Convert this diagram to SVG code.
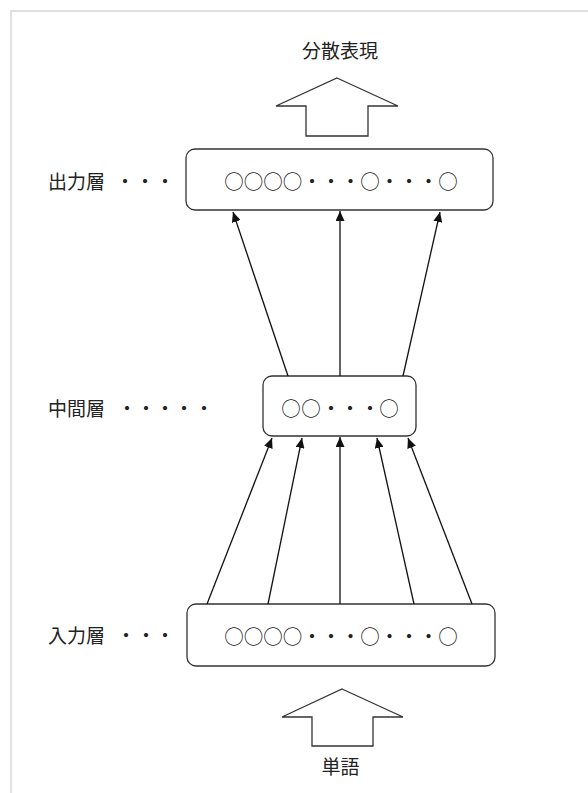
<svg xmlns="http://www.w3.org/2000/svg" width="588" height="793" viewBox="0 0 588 793">
<defs>
<style>
.t{font-family:"Noto Sans CJK JP","Noto Sans",sans-serif;font-size:19px;fill:#222;dominant-baseline:central}
.c{text-anchor:middle;font-size:19.5px}
.box{fill:#fff;stroke:#333;stroke-width:1.3}
.blk{fill:#fff;stroke:#333;stroke-width:1.3;stroke-linejoin:miter}
.ln{stroke:#111;stroke-width:1.3;fill:none}
</style>
<marker id="ah" markerUnits="userSpaceOnUse" markerWidth="10" markerHeight="9" refX="10" refY="4.5" orient="auto">
<path d="M0,0 L10,4.5 L0,9 z" fill="#111"/>
</marker>
</defs>
<rect width="588" height="793" fill="#fff"/>
<path d="M11,793 V11 H588" fill="none" stroke="#d6d6d6" stroke-width="1.5"/>

<g id="out-label">
<text class="t" x="340" y="49" text-anchor="middle">分散表現</text>
<path class="blk" d="M337,78 L398,106 H368 V136 H306 V106 H276 Z"/>
</g>

<g id="output-layer">
<text class="t" x="48" y="180">出力層</text>
<text class="t c" x="125 145 165" y="180">・・・</text>
<rect class="box" x="186" y="149" width="307" height="61" rx="9"/>
<text class="t c" x="234 253.5 273 292.5 312 331 350.5 370 389.5 409 428.5 448" y="180">○○○○・・・○・・・○</text>
</g>

<g id="middle-layer">
<text class="t" x="48" y="407">中間層</text>
<text class="t c" x="127 146 165 184 204" y="407">・・・・・</text>
<rect class="box" x="263" y="376" width="153" height="60" rx="9"/>
<text class="t c" x="291 311 331 350 370 389" y="407">○○・・・○</text>
</g>

<g id="input-layer">
<text class="t" x="48" y="634">入力層</text>
<text class="t c" x="126 146 165" y="634">・・・</text>
<rect class="box" x="187" y="604" width="308" height="62" rx="9"/>
<text class="t c" x="234 253.5 273 292.5 312 331 350.5 370 389.5 409 428.5 448" y="635">○○○○・・・○・・・○</text>
</g>

<g id="word">
<path class="blk" d="M342,689 L403,717 H373 V746 H312 V717 H282 Z"/>
<text class="t" x="340.5" y="765" text-anchor="middle">単語</text>
</g>

<g id="connectors">
<line class="ln" x1="288" y1="376" x2="233" y2="212" marker-end="url(#ah)"/>
<line class="ln" x1="340" y1="376" x2="340" y2="211" marker-end="url(#ah)"/>
<line class="ln" x1="403" y1="376" x2="440" y2="212" marker-end="url(#ah)"/>
<line class="ln" x1="207" y1="604" x2="272" y2="438" marker-end="url(#ah)"/>
<line class="ln" x1="268" y1="604" x2="302" y2="438" marker-end="url(#ah)"/>
<line class="ln" x1="340" y1="604" x2="340" y2="437" marker-end="url(#ah)"/>
<line class="ln" x1="414" y1="604" x2="377" y2="438" marker-end="url(#ah)"/>
<line class="ln" x1="472" y1="604" x2="408" y2="438" marker-end="url(#ah)"/>
</g>
</svg>
